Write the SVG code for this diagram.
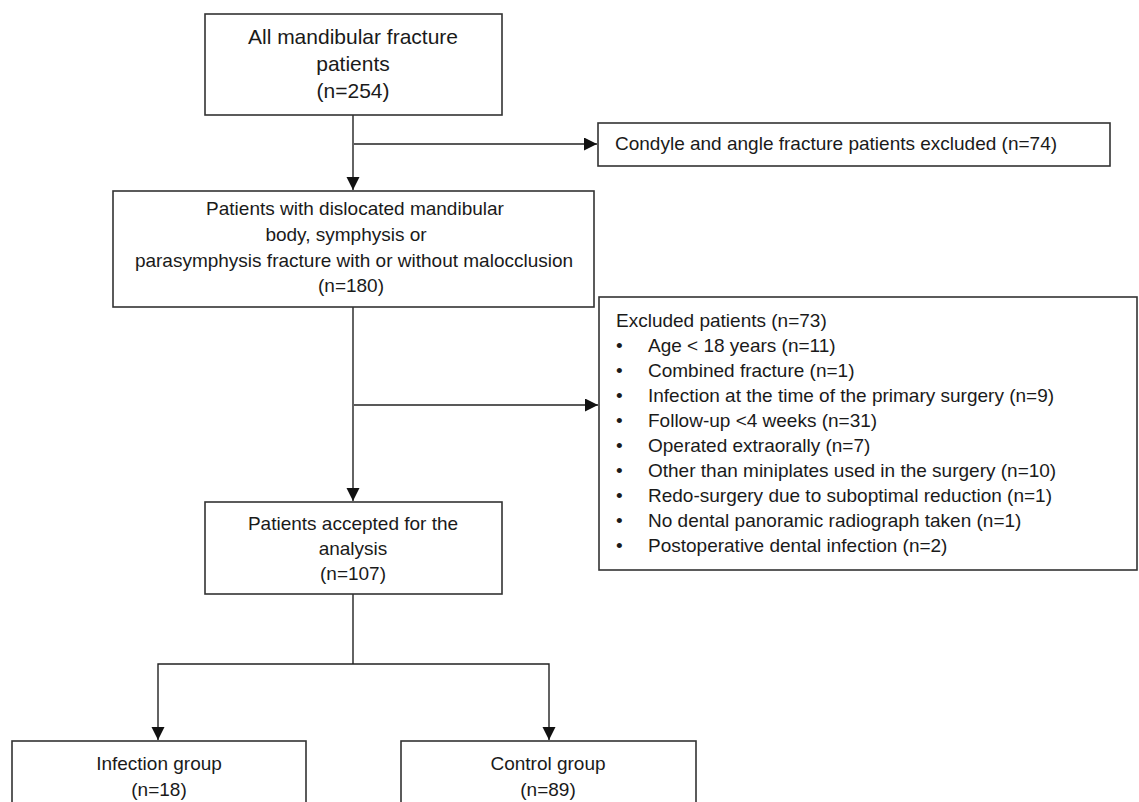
<svg xmlns="http://www.w3.org/2000/svg" width="1139" height="802" viewBox="0 0 1139 802">
<defs>
<marker id="arr" markerUnits="userSpaceOnUse" markerWidth="14" markerHeight="14" refX="13" refY="6.5" orient="auto">
<path d="M0,0 L13,6.5 L0,13 z" fill="#111"/>
</marker>
<style>
.box{fill:#fff;stroke:#333;stroke-width:1.6}
.t{font-family:"Liberation Sans",Arial,sans-serif;font-size:19px;fill:#1a1a1a}
.c{text-anchor:middle}
.big{font-size:21px}
.ln{fill:none;stroke:#222;stroke-width:1.4}
</style>
</defs>
<rect width="1139" height="802" fill="#fff"/>
<g id="connectors">
<path class="ln" d="M353,115 V190" marker-end="url(#arr)"/>
<path class="ln" d="M354,144 H597" marker-end="url(#arr)"/>
<path class="ln" d="M353,307 V501" marker-end="url(#arr)"/>
<path class="ln" d="M354,405 H598" marker-end="url(#arr)"/>
<path class="ln" d="M353,594 V664"/>
<path class="ln" d="M353,664 H158 V740" marker-end="url(#arr)"/>
<path class="ln" d="M353,664 H549 V740" marker-end="url(#arr)"/>
</g>
<g id="all-patients">
<rect class="box" x="205" y="14" width="297" height="101"/>
<text class="t big c" x="353" y="44">All mandibular fracture</text>
<text class="t big c" x="353" y="71">patients</text>
<text class="t big c" x="353" y="98">(n=254)</text>
</g>
<g id="condyle-excluded">
<rect class="box" x="598" y="123" width="512" height="43"/>
<text class="t" x="615" y="150">Condyle and angle fracture patients excluded (n=74)</text>
</g>
<g id="dislocated">
<rect class="box" x="113" y="191" width="481" height="116"/>
<text class="t c" x="355" y="215">Patients with dislocated mandibular</text>
<text class="t c" x="346" y="241">body, symphysis or</text>
<text class="t c" x="354" y="267">parasymphysis fracture with or without malocclusion</text>
<text class="t c" x="351" y="292">(n=180)</text>
</g>
<g id="excluded-patients">
<rect class="box" x="599" y="297" width="538" height="273"/>
<text class="t" x="616" y="327">Excluded patients (n=73)</text>
<text class="t" x="616" y="352">•</text><text class="t" x="648" y="352">Age &lt; 18 years (n=11)</text>
<text class="t" x="616" y="377">•</text><text class="t" x="648" y="377">Combined fracture (n=1)</text>
<text class="t" x="616" y="402">•</text><text class="t" x="648" y="402">Infection at the time of the primary surgery (n=9)</text>
<text class="t" x="616" y="427">•</text><text class="t" x="648" y="427">Follow-up &lt;4 weeks (n=31)</text>
<text class="t" x="616" y="452">•</text><text class="t" x="648" y="452">Operated extraorally (n=7)</text>
<text class="t" x="616" y="477">•</text><text class="t" x="648" y="477">Other than miniplates used in the surgery (n=10)</text>
<text class="t" x="616" y="502">•</text><text class="t" x="648" y="502">Redo-surgery due to suboptimal reduction (n=1)</text>
<text class="t" x="616" y="527">•</text><text class="t" x="648" y="527">No dental panoramic radiograph  taken (n=1)</text>
<text class="t" x="616" y="552">•</text><text class="t" x="648" y="552">Postoperative dental infection (n=2)</text>
</g>
<g id="accepted">
<rect class="box" x="205" y="502" width="297" height="92"/>
<text class="t c" x="353" y="530">Patients accepted for the</text>
<text class="t c" x="353" y="555">analysis</text>
<text class="t c" x="353" y="580">(n=107)</text>
</g>
<g id="infection-group">
<rect class="box" x="12" y="741" width="294" height="70"/>
<text class="t c" x="159" y="770">Infection group</text>
<text class="t c" x="159" y="796">(n=18)</text>
</g>
<g id="control-group">
<rect class="box" x="401" y="741" width="295" height="70"/>
<text class="t c" x="548" y="770">Control group</text>
<text class="t c" x="548" y="796">(n=89)</text>
</g>
</svg>
